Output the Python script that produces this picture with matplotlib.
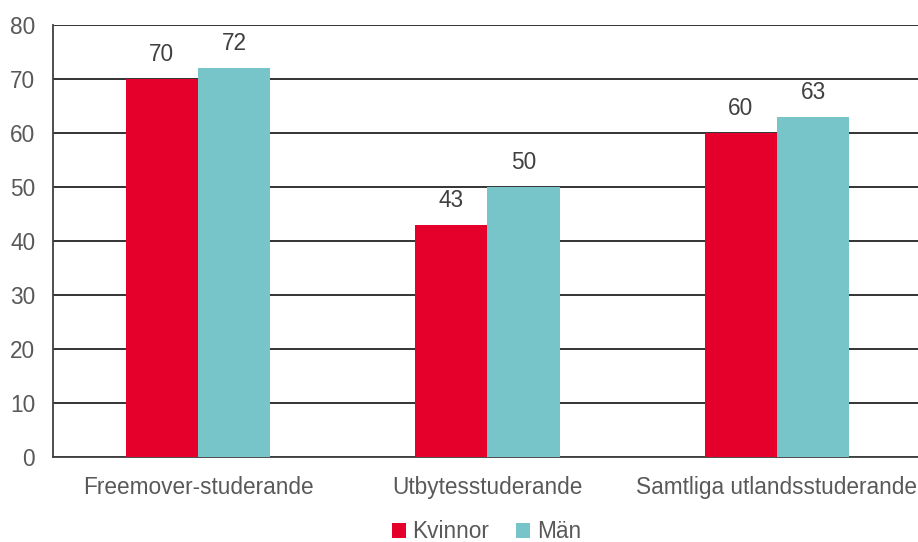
import numpy as np
import matplotlib.pyplot as plt

plt.rcParams['font.family'] = ['Liberation Sans', 'DejaVu Sans']

categories = ['Freemover-studerande', 'Utbytesstuderande', 'Samtliga utlandsstuderande']
kvinnor = [70, 43, 60]
man = [72, 50, 63]

RED = '#E4002B'
TEAL = '#78C5C9'
TXT = '#595959'
FS = 16.3

fig = plt.figure(figsize=(9.18, 5.42), dpi=100)
ax = fig.add_axes([0.058, 0.157, 0.946, 0.797])

x = np.arange(len(categories))
w = 0.25
b1 = ax.bar(x - w / 2, kvinnor, w, color=RED, label='Kvinnor', zorder=3)
b2 = ax.bar(x + w / 2, man, w, color=TEAL, label='Män', zorder=3)

for bars, vals in ((b1, kvinnor), (b2, man)):
    for r, v in zip(bars, vals):
        ax.text(r.get_x() + r.get_width() / 2, v + 2.4, str(v), ha='center',
                va='bottom', fontsize=FS, color='#404040')

ax.set_ylim(0, 80)
ax.set_xlim(-0.5, 2.5)
ax.set_yticks(range(0, 81, 10))
ax.yaxis.grid(True, color='#111111', linewidth=1.2, zorder=0)
ax.set_xticks(x)
ax.set_xticklabels(categories)
ax.tick_params(axis='both', length=0, labelsize=FS, labelcolor=TXT)
ax.tick_params(axis='x', pad=14)
ax.tick_params(axis='y', pad=13)
for s in ('top', 'right'):
    ax.spines[s].set_visible(False)
for s in ('left', 'bottom'):
    ax.spines[s].set_color('#404040')
    ax.spines[s].set_linewidth(1.3)

leg = fig.legend(loc='lower center', bbox_to_anchor=(0.53, -0.04), ncol=2,
                 frameon=False, fontsize=FS, handlelength=0.6, handleheight=0.6,
                 handletextpad=0.3, columnspacing=1.2)
for t in leg.get_texts():
    t.set_color(TXT)

fig.savefig('out.png', dpi=100)
